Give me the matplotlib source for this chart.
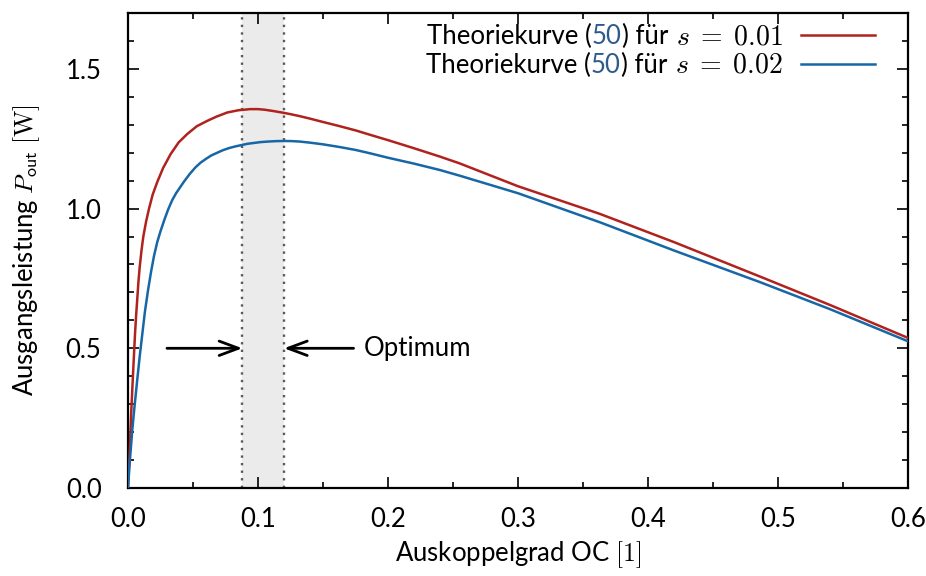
import matplotlib
matplotlib.use('Agg')
import matplotlib.pyplot as plt
from matplotlib.ticker import MultipleLocator

plt.rcParams['font.family'] = ['Lato', 'DejaVu Sans']
plt.rcParams['mathtext.fontset'] = 'cm'
plt.rcParams['font.size'] = 18.5

# Werte
oc_s1 = [0.0, 0.0012, 0.0023, 0.0038, 0.0054, 0.0063, 0.0072, 0.008, 0.009, 0.0104,
         0.0118, 0.014, 0.0162, 0.019, 0.0226, 0.027, 0.0328, 0.039, 0.0456, 0.053,
         0.061, 0.068, 0.0764, 0.085, 0.094, 0.1, 0.105, 0.112, 0.1195, 0.125,
         0.132, 0.14, 0.15, 0.162, 0.175, 0.187, 0.2, 0.22, 0.24, 0.255,
         0.3, 0.363, 0.42, 0.486, 0.54, 0.6]
p_s1 = [0.0, 0.12, 0.25, 0.40, 0.55, 0.62, 0.68, 0.735, 0.79, 0.85,
        0.90, 0.955, 1.0, 1.05, 1.096, 1.145, 1.195, 1.237, 1.267, 1.295,
        1.314, 1.329, 1.344, 1.352, 1.356, 1.356, 1.354, 1.349, 1.343, 1.338,
        1.331, 1.322, 1.310, 1.296, 1.28, 1.263, 1.245, 1.216, 1.186, 1.162,
        1.08, 0.981, 0.88, 0.757, 0.655, 0.537]

oc_s2 = [0.0, 0.0015, 0.0033, 0.005, 0.0072, 0.009, 0.011, 0.013, 0.0155, 0.0178,
         0.02, 0.0225, 0.0251, 0.028, 0.031, 0.034, 0.037, 0.043, 0.0475, 0.052,
         0.056, 0.06, 0.064, 0.0687, 0.073, 0.078, 0.083, 0.088, 0.092, 0.097,
         0.102, 0.108, 0.114, 0.12, 0.126, 0.132, 0.14, 0.15, 0.162, 0.175,
         0.187, 0.2, 0.22, 0.24, 0.255, 0.3, 0.363, 0.42, 0.486, 0.54, 0.6]
p_s2 = [0.0, 0.10, 0.207, 0.29, 0.39, 0.47, 0.55, 0.63, 0.71, 0.775,
        0.83, 0.88, 0.92, 0.96, 0.998, 1.03, 1.055, 1.096, 1.124, 1.148,
        1.165, 1.178, 1.19, 1.200, 1.209, 1.217, 1.223, 1.228, 1.232, 1.235,
        1.238, 1.240, 1.2415, 1.242, 1.2415, 1.240, 1.236, 1.230, 1.221, 1.21,
        1.197, 1.182, 1.161, 1.138, 1.118, 1.055, 0.951, 0.85, 0.737, 0.64, 0.525]

opt_lo, opt_hi = 0.088, 0.12
arrow_y = 0.5
arrow_left_start = 0.03
optimum_text_x = 0.181

s_values = ['0.01', '0.02']
ref_number = '50'

red = '#b0221d'
blue = '#1767a6'
link_blue = '#2f5a8c'

fig = plt.figure(figsize=(9.26, 5.76), dpi=100)
ax = fig.add_axes([0.1382, 0.1528, 0.8424, 0.8246])

ax.axvspan(opt_lo, opt_hi, color='#ebebeb', lw=0, zorder=0)
for xv in (opt_lo, opt_hi):
    ax.axvline(xv, color='#5a5a5a', ls=(0, (1, 2.2)), lw=1.7, zorder=1)

labels = ['Theoriekurve (%s) für $s\\;=\\;%s$' % (ref_number, s) for s in s_values]
ax.plot(oc_s1, p_s1, color=red, lw=1.8, label=labels[0], zorder=3)
ax.plot(oc_s2, p_s2, color=blue, lw=1.8, label=labels[1], zorder=3)

arrow = dict(arrowstyle='->,head_length=0.75,head_width=0.28', lw=2.0, color='black',
             shrinkA=0, shrinkB=0)
ax.annotate('', xy=(opt_lo, arrow_y), xytext=(arrow_left_start, arrow_y), arrowprops=arrow)
ax.annotate('Optimum', xy=(opt_hi, arrow_y), xytext=(optimum_text_x, arrow_y),
            va='center', ha='left',
            arrowprops=dict(arrow, shrinkA=5))

ax.set_xlim(0, 0.6)
ax.set_ylim(0, 1.7)
ax.xaxis.set_major_locator(MultipleLocator(0.1))
ax.xaxis.set_minor_locator(MultipleLocator(0.05))
ax.yaxis.set_major_locator(MultipleLocator(0.5))
ax.yaxis.set_minor_locator(MultipleLocator(0.1))
ax.tick_params(which='both', direction='in', top=True, right=True, width=1.2)
ax.tick_params(which='major', length=8)
ax.tick_params(which='minor', length=4)
ax.tick_params(axis='x', pad=14)
ax.tick_params(axis='y', pad=19)
for sp in ax.spines.values():
    sp.set_linewidth(1.6)

ax.set_xlabel('Auskoppelgrad OC $[1]$', labelpad=5)
ax.set_ylabel('Ausgangsleistung $P_{\\mathsf{out}}$ $[\\mathrm{W}]$', labelpad=17)

leg = ax.legend(loc='upper right', bbox_to_anchor=(0.958, 0.985), frameon=False,
                markerfirst=False, handlelength=2.9, handletextpad=0.7,
                labelspacing=-0.05, borderaxespad=0, borderpad=0)

# Legendentext in Stücken neu setzen, damit die Nummer blau wird
fig.canvas.draw()
renderer = fig.canvas.get_renderer()
to_fig = fig.transFigure.inverted()
fs = plt.rcParams['font.size']


def text_width(s, size):
    tmp = fig.text(0, 0, s, fontsize=size)
    w = tmp.get_window_extent(renderer).width
    tmp.remove()
    return w


for t, s in zip(leg.get_texts(), s_values):
    ext = t.get_window_extent(renderer)
    _, _, d = t._get_layout(renderer)
    base = ext.y0 + d
    t.set_visible(False)
    pieces = [('Theoriekurve (', 'black', fs, 0),
              (ref_number, link_blue, fs, 0),
              (') für', 'black', fs, 0),
              ('$s\\;=\\;%s$' % s, 'black', fs + 1.5, 0.3 * fs * 100 / 72)]
    x = ext.x1
    for txt, col, size, gap in reversed(pieces):
        x -= text_width(txt, size)
        fx, fy = to_fig.transform((x, base))
        fig.text(fx, fy, txt, color=col, fontsize=size, va='baseline', ha='left')
        x -= gap

fig.savefig('out.png', dpi=100)
